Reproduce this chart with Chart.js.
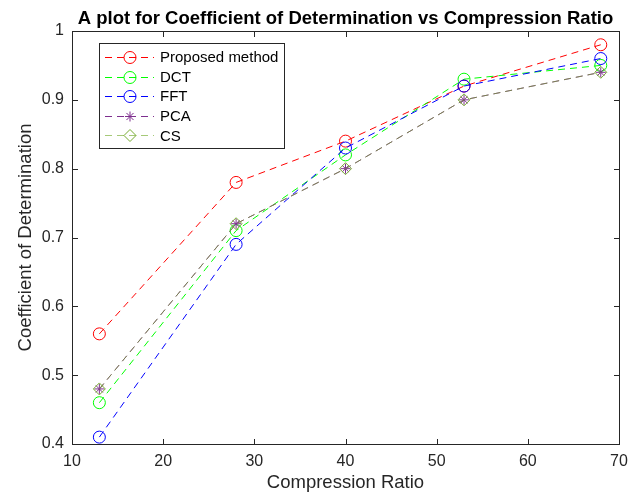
<!DOCTYPE html>
<html><head><meta charset="utf-8">
<script src="https://cdn.jsdelivr.net/npm/chart.js@4/dist/chart.umd.min.js"></script>
<style>html,body{margin:0;padding:0;background:#fff}#wrap{width:643px;height:501px}</style>
</head><body><div id="wrap"><canvas id="c" width="643" height="501"></canvas></div>
<script>
const compressionRatio = [13, 28, 40, 53, 68];
const proposed = [0.56, 0.78, 0.84, 0.92, 0.98];
const dct = [0.46, 0.71, 0.82, 0.93, 0.95];
const fft = [0.41, 0.69, 0.83, 0.92, 0.96];
const pca = [0.48, 0.72, 0.80, 0.90, 0.94];
const cs = [0.48, 0.72, 0.80, 0.90, 0.94];
const xTicks = [10, 20, 30, 40, 50, 60, 70];
const yTicks = [0.4, 0.5, 0.6, 0.7, 0.8, 0.9, 1];
const seriesNames = ['Proposed method', 'DCT', 'FFT', 'PCA', 'CS'];
const titleText = 'A plot for Coefficient of Determination vs Compression Ratio';
const xTitle = 'Compression Ratio';
const yTitle = 'Coefficient of Determination';

const FONT = '"Liberation Sans", Arial, Helvetica, sans-serif';
const AX = '#262626';
const DASH = [7, 5];

function pts(ys){ return compressionRatio.map((x,i)=>({x:x,y:ys[i]})); }
const styles = [
  {color:'#ff0000', point:'circle', r:6, order:5},
  {color:'#00ff00', point:'circle', r:6, order:4},
  {color:'#0000ff', point:'circle', r:6, order:3},
  {color:'#7e2f8e', point:'star', r:5, order:2},
  {color:'rgba(119,172,48,0.65)', pcolor:'#77ac30', point:'rectRot', r:6, order:1}
];
const allData = [proposed, dct, fft, pca, cs];
const datasets = allData.map((d,i)=>({
  label: seriesNames[i],
  data: pts(d),
  borderColor: styles[i].color,
  pointBorderColor: styles[i].pcolor || styles[i].color,
  backgroundColor: 'rgba(0,0,0,0)',
  pointBackgroundColor: 'rgba(0,0,0,0)',
  borderWidth: 1,
  borderDash: DASH,
  pointStyle: styles[i].point,
  pointRadius: styles[i].r,
  pointBorderWidth: 1,
  pointHoverRadius: styles[i].r,
  order: styles[i].order,
  fill: false,
  tension: 0
}));

const deco = {
  id:'deco',
  afterDraw(chart){
    const ctx = chart.ctx, a = chart.chartArea;
    const xs = chart.scales.x, ys = chart.scales.y;
    ctx.save();
    ctx.strokeStyle = AX; ctx.lineWidth = 1;
    const L = Math.round(a.left)+0.5, R = Math.round(a.right)+0.5, T = Math.round(a.top)+0.5, B = Math.round(a.bottom)+0.5;
    ctx.strokeRect(L, T, R-L, B-T);
    const tl = 5.5;
    ctx.beginPath();
    xTicks.forEach(v=>{ const p = Math.round(xs.getPixelForValue(v))+0.5;
      ctx.moveTo(p,B); ctx.lineTo(p,B-tl); ctx.moveTo(p,T); ctx.lineTo(p,T+tl); });
    yTicks.forEach(v=>{ const p = Math.round(ys.getPixelForValue(v))+0.5;
      ctx.moveTo(L,p); ctx.lineTo(L+tl,p); ctx.moveTo(R,p); ctx.lineTo(R-tl,p); });
    ctx.stroke();
    // title
    ctx.fillStyle = '#000';
    ctx.font = 'bold 18.5px ' + FONT;
    ctx.textAlign = 'center'; ctx.textBaseline = 'alphabetic';
    ctx.fillText(titleText, (a.left+a.right)/2, 24);
    // axis titles
    ctx.fillStyle = AX;
    ctx.font = '18.5px ' + FONT;
    ctx.fillText(xTitle, (a.left+a.right)/2, 488);
    ctx.save();
    ctx.translate(31, (a.top+a.bottom)/2);
    ctx.rotate(-Math.PI/2);
    ctx.fillText(yTitle, 0, 0);
    ctx.restore();
    // legend
    const bx = 99.5, by = 43.5, bw = 185, bh = 105;
    ctx.fillStyle = '#fff'; ctx.fillRect(bx, by, bw, bh);
    ctx.strokeStyle = AX; ctx.strokeRect(bx, by, bw, bh);
    ctx.font = '15px ' + FONT; ctx.textAlign = 'left'; ctx.textBaseline = 'middle';
    seriesNames.forEach((name,i)=>{
      const y = 57 + i*19.6;
      const st = styles[i];
      ctx.save();
      ctx.strokeStyle = st.color; ctx.lineWidth = 1; ctx.setLineDash(DASH);
      ctx.beginPath(); ctx.moveTo(105, Math.round(y)+0.5); ctx.lineTo(154, Math.round(y)+0.5); ctx.stroke();
      ctx.setLineDash([]);
      ctx.strokeStyle = st.pcolor || st.color;
      ctx.fillStyle = 'rgba(0,0,0,0)';
      Chart.helpers.drawPoint(ctx, {pointStyle: st.point, radius: st.r, borderWidth: 1, rotation: 0}, 130, Math.round(y)+0.5);
      ctx.restore();
      ctx.fillStyle = '#000';
      ctx.fillText(name, 160, y+1);
    });
    ctx.restore();
  }
};

new Chart(document.getElementById('c'), {
  type: 'line',
  data: { datasets },
  options: {
    responsive: false,
    animation: false,
    events: [],
    layout: { padding: { left: 0, right: 24, top: 31, bottom: 0 } },
    plugins: { legend: { display: false }, title: { display: false }, tooltip: { enabled: false } },
    scales: {
      x: {
        type: 'linear', min: 10, max: 70,
        afterBuildTicks: s => { s.ticks = xTicks.map(v=>({value:v})); },
        afterFit: s => { s.height = 57; },
        grid: { display: false, drawTicks: false },
        border: { display: false },
        ticks: { color: AX, font: { family: FONT, size: 16 }, padding: 8, maxRotation: 0, callback: v => String(v) },
        title: { display: false }
      },
      y: {
        type: 'linear', min: 0.4, max: 1,
        afterBuildTicks: s => { s.ticks = yTicks.map(v=>({value:v})); },
        afterFit: s => { s.width = 72; },
        grid: { display: false, drawTicks: false },
        border: { display: false },
        ticks: { color: AX, font: { family: FONT, size: 16 }, padding: 8, callback: v => String(Math.round(v*10)/10) },
        title: { display: false }
      }
    }
  },
  plugins: [deco]
});
</script></body></html>
